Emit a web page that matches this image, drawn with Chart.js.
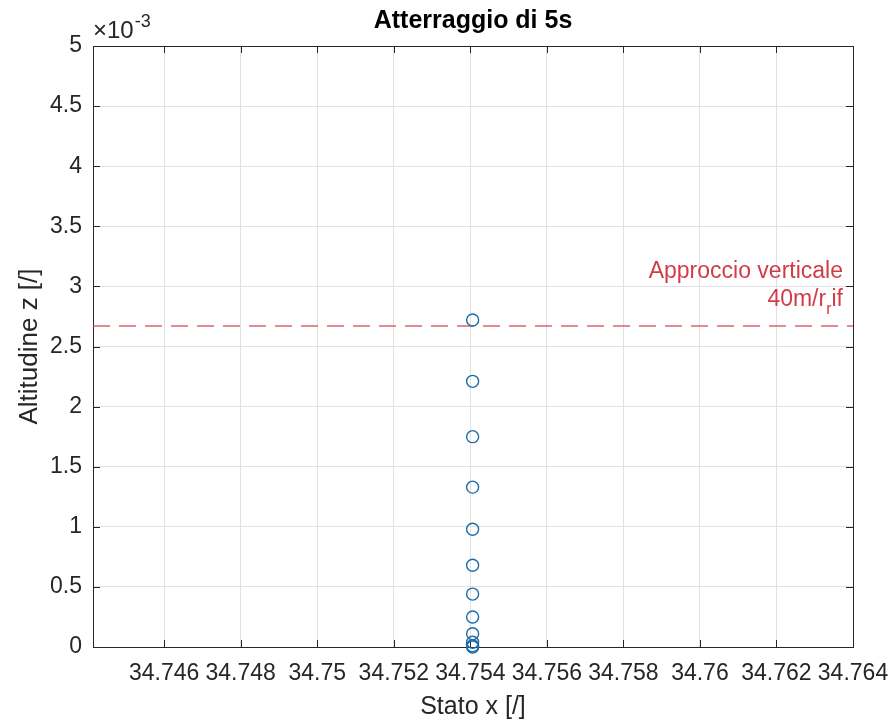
<!DOCTYPE html>
<html>
<head>
<meta charset="utf-8">
<title>Atterraggio di 5s</title>
<script src="https://cdn.jsdelivr.net/npm/chart.js@4.4.0/dist/chart.umd.min.js"></script>
<style>
    body { margin: 0; background: #fff; }
    #wrap { width: 892px; height: 726px; }
</style>
</head>
<body>
<div id="wrap"><canvas id="grafico" width="892" height="726"></canvas></div>
<script>
// ==================== DATI ====================
// altitudine espressa in unita di 1e-3 (asse con moltiplicatore x10^-3)
const statoX = [34.75406, 34.75406, 34.75406, 34.75406, 34.75406, 34.75406,
                34.75406, 34.75406, 34.75406, 34.75406, 34.75406, 34.75406];
const altitudineZ = [2.72, 2.21, 1.75, 1.33, 0.98, 0.68, 0.44, 0.25, 0.11, 0.04, 0.01, 0];
const quotaVerticale = 2.67;

const limitiX = [34.74414, 34.764];
const limitiZ = [0, 5];
const tickX = [34.746, 34.748, 34.75, 34.752, 34.754, 34.756, 34.758, 34.76, 34.762, 34.764];
const tickZ = [0, 0.5, 1, 1.5, 2, 2.5, 3, 3.5, 4, 4.5, 5];

const FONT = '"Liberation Sans", Arial, Helvetica, sans-serif';
const GRIGIO = '#262626';
const ROSSO = '#d23c48';

Chart.defaults.font.family = FONT;

// box con tacche interne, moltiplicatore e testo della linea
const cornice = {
    id: 'cornice',
    beforeDatasetsDraw(chart) {
        const { ctx, chartArea: a, scales: { x, y } } = chart;
        ctx.save();
        ctx.strokeStyle = GRIGIO;
        ctx.lineWidth = 1;
        ctx.beginPath();
        x.ticks.forEach(t => {
            const px = Math.round(x.getPixelForValue(t.value)) + 0.5;
            ctx.moveTo(px, a.bottom); ctx.lineTo(px, a.bottom - 7);
            ctx.moveTo(px, a.top); ctx.lineTo(px, a.top + 7);
        });
        y.ticks.forEach(t => {
            const py = Math.round(y.getPixelForValue(t.value)) + 0.5;
            ctx.moveTo(a.left, py); ctx.lineTo(a.left + 7, py);
            ctx.moveTo(a.right, py); ctx.lineTo(a.right - 7, py);
        });
        ctx.stroke();
        ctx.strokeRect(Math.round(a.left) + 0.5, Math.round(a.top) + 0.5,
                       Math.round(a.right - a.left), Math.round(a.bottom - a.top));
        ctx.restore();
    },
    afterDraw(chart) {
        const { ctx, chartArea: a, scales: { y } } = chart;
        ctx.save();
        ctx.textBaseline = 'alphabetic';

        // moltiplicatore x10^-3
        ctx.fillStyle = GRIGIO;
        ctx.textAlign = 'left';
        ctx.font = `24px ${FONT}`;
        ctx.fillText('\u00d710', a.left, a.top - 8);
        const w = ctx.measureText('\u00d710').width;
        ctx.font = `18px ${FONT}`;
        ctx.fillText('-3', a.left + w + 1, a.top - 19);

        // testo della linea tratteggiata
        const yl = y.getPixelForValue(quotaVerticale);
        const destra = a.right - 10;
        ctx.fillStyle = ROSSO;
        ctx.textAlign = 'right';
        ctx.font = `23px ${FONT}`;
        ctx.fillText('Approccio verticale', destra, yl - 48);

        ctx.textAlign = 'left';
        const wFin = ctx.measureText('if').width;
        const wIni = ctx.measureText('40m/r').width;
        ctx.font = `16px ${FONT}`;
        const wSub = ctx.measureText('r').width;
        let px = destra - wFin - wSub - wIni;
        ctx.font = `23px ${FONT}`;
        ctx.fillText('40m/r', px, yl - 20);
        px += wIni;
        ctx.font = `16px ${FONT}`;
        ctx.fillText('r', px, yl - 12);
        px += wSub;
        ctx.font = `23px ${FONT}`;
        ctx.fillText('if', px, yl - 20);
        ctx.restore();
    }
};

const punti = statoX.map((x, i) => ({ x: x, y: altitudineZ[i] }));
const linea = limitiX.map(x => ({ x: x, y: quotaVerticale }));

new Chart(document.getElementById('grafico'), {
    type: 'scatter',
    data: {
        datasets: [
            {
                label: 'Atterraggio',
                data: punti,
                pointStyle: 'circle',
                pointRadius: 6,
                pointBorderWidth: 1.4,
                pointBorderColor: '#1c6da8',
                pointBackgroundColor: 'rgba(0,0,0,0)',
                showLine: false,
                clip: false
            },
            {
                type: 'line',
                label: 'Approccio verticale',
                data: linea,
                borderColor: 'rgba(210,60,72,0.8)',
                borderWidth: 1.5,
                borderDash: [17, 9],
                pointRadius: 0,
                fill: false
            }
        ]
    },
    options: {
        responsive: false,
        devicePixelRatio: 1,
        animation: false,
        layout: { padding: { top: 0, right: 39, bottom: 0, left: 0 } },
        plugins: {
            legend: { display: false },
            tooltip: { enabled: false },
            title: {
                display: true,
                text: 'Atterraggio di 5s',
                fullSize: false,
                color: '#000',
                font: { size: 25, weight: 'bold' },
                padding: { top: 6, bottom: 10 }
            }
        },
        scales: {
            x: {
                type: 'linear',
                min: limitiX[0],
                max: limitiX[1],
                afterBuildTicks: s => { s.ticks = tickX.map(v => ({ value: v })); },
                afterFit: s => { s.height = 79; s.paddingLeft = 0; s.paddingRight = 0; },
                grid: { color: '#e1e1e1', drawTicks: false },
                border: { display: false },
                ticks: {
                    color: GRIGIO,
                    font: { size: 23 },
                    padding: 13,
                    maxRotation: 0,
                    autoSkip: false,
                    callback: v => String(+v.toFixed(3))
                },
                title: {
                    display: true,
                    text: 'Stato x [/]',
                    color: GRIGIO,
                    font: { size: 25 },
                    padding: { top: 0, bottom: 4 }
                }
            },
            y: {
                type: 'linear',
                min: limitiZ[0],
                max: limitiZ[1],
                afterBuildTicks: s => { s.ticks = tickZ.map(v => ({ value: v })); },
                afterFit: s => { s.width = 93; s.paddingTop = 0; s.paddingBottom = 0; },
                grid: { color: '#e1e1e1', drawTicks: false },
                border: { display: false },
                ticks: {
                    color: GRIGIO,
                    font: { size: 23 },
                    padding: 11,
                    autoSkip: false,
                    callback: v => String(v)
                },
                title: {
                    display: true,
                    text: 'Altitudine z [/]',
                    color: GRIGIO,
                    font: { size: 26 },
                    padding: { top: 14, bottom: 0 }
                }
            }
        }
    },
    plugins: [cornice]
});
</script>
</body>
</html>
